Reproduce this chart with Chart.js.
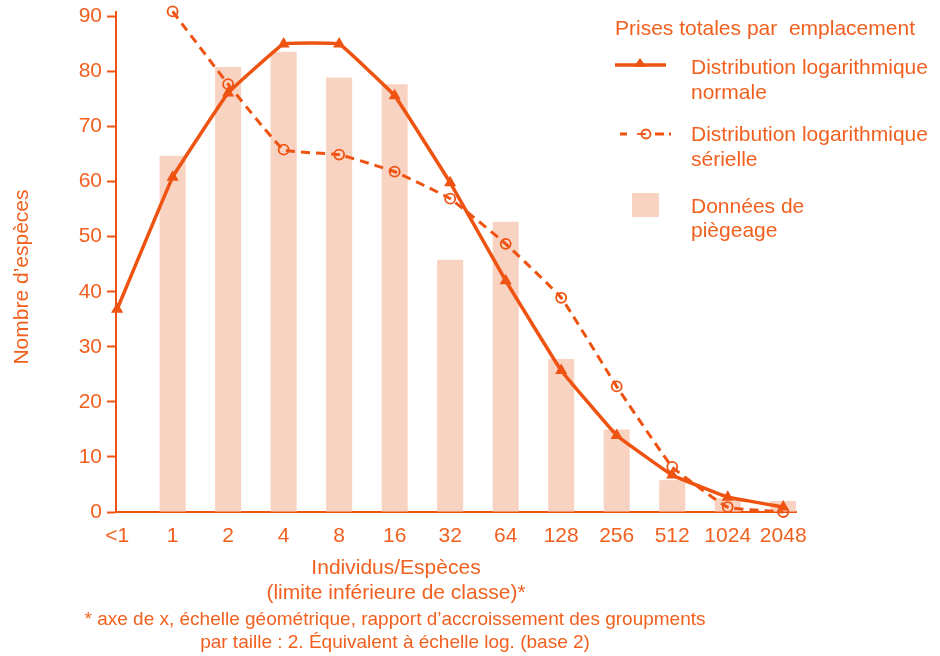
<!DOCTYPE html>
<html lang="fr">
<head>
<meta charset="utf-8">
<title>Prises totales par emplacement</title>
<script src="https://cdn.jsdelivr.net/npm/chart.js@4/dist/chart.umd.min.js"></script>
<style>
  html, body { margin: 0; padding: 0; background: #ffffff; }
  #wrap { position: relative; width: 940px; height: 656px; }
</style>
</head>
<body>
<div id="wrap"><canvas id="chart" width="940" height="656"></canvas></div>
<script>
// Classes d'abondance (limite inférieure, progression géométrique de raison 2)
const categories = ['<1', '1', '2', '4', '8', '16', '32', '64', '128', '256', '512', '1024', '2048'];

// Nombre d'espèces par classe
const trapData  = [null, 64.7, 80.8, 83.6, 78.9, 77.7, 45.8, 52.7, 27.8, 15.0, 5.8, 2.5, 2.0];
const logNormal = [36.8, 60.8, 76.1, 85.0, 85.0, 75.6, 59.8, 42.0, 25.7, 13.9, 6.7, 2.7, 0.9];
const logSeries = [null, 90.9, 77.7, 65.8, 64.9, 61.8, 56.9, 48.7, 38.9, 22.8, 8.2, 0.9, 0];

const yTicks = [0, 10, 20, 30, 40, 50, 60, 70, 80, 90];

const legendTitle = 'Prises totales par  emplacement';
const legendNormal = ['Distribution logarithmique', 'normale'];
const legendSeries = ['Distribution logarithmique', 'sérielle'];
const legendTrap = ['Données de', 'piègeage'];
const yTitle = 'Nombre d\u2019espèces';
const xTitle = ['Individus/Espèces', '(limite inférieure de classe)*'];
const footnote = [
  '* axe de x, échelle géométrique, rapport d\u2019accroissement des groupments',
  'par taille : 2. Équivalent à échelle log. (base 2)'
];

const LINE = '#EF5312';
const TEXT = '#F2601F';
const BAR = '#F9D3C2';
const FONT = '"Liberation Sans", Arial, Helvetica, sans-serif';

const toPoints = arr => arr.map((v, i) => (v === null ? null : { x: i, y: v }))
  .filter(p => p !== null);

// Légende et textes annexes dessinés sur le canevas
const annotations = {
  id: 'annotations',
  afterDraw(chart) {
    const ctx = chart.ctx;
    ctx.save();
    ctx.fillStyle = TEXT;
    ctx.textBaseline = 'middle';

    // Titre de l'axe y
    ctx.font = '21px ' + FONT;
    ctx.save();
    ctx.translate(22, 277);
    ctx.rotate(-Math.PI / 2);
    ctx.textAlign = 'center';
    ctx.fillText(yTitle, 0, 0);
    ctx.restore();

    // Titre de l'axe x
    ctx.textAlign = 'center';
    ctx.font = '21px ' + FONT;
    ctx.fillText(xTitle[0], 396, 568);
    ctx.fillText(xTitle[1], 396, 593);

    // Note de bas de page
    ctx.font = '19px ' + FONT;
    ctx.fillText(footnote[0], 395, 620);
    ctx.fillText(footnote[1], 395, 643);

    // Légende
    ctx.textAlign = 'left';
    ctx.font = '21px ' + FONT;
    ctx.fillText(legendTitle, 615, 29);
    ctx.fillText(legendNormal[0], 691, 68);
    ctx.fillText(legendNormal[1], 691, 93);
    ctx.fillText(legendSeries[0], 691, 135);
    ctx.fillText(legendSeries[1], 691, 160);
    ctx.fillText(legendTrap[0], 691, 207);
    ctx.fillText(legendTrap[1], 691, 231);

    // Symbole : distribution log-normale
    ctx.strokeStyle = LINE;
    ctx.lineWidth = 3.5;
    ctx.beginPath();
    ctx.moveTo(615, 65);
    ctx.lineTo(666, 65);
    ctx.stroke();
    ctx.fillStyle = LINE;
    ctx.beginPath();
    ctx.moveTo(640, 58);
    ctx.lineTo(646.5, 67);
    ctx.lineTo(633.5, 67);
    ctx.closePath();
    ctx.fill();

    // Symbole : série logarithmique
    ctx.lineWidth = 3;
    ctx.beginPath();
    ctx.moveTo(620, 134); ctx.lineTo(627, 134);
    ctx.moveTo(655, 134); ctx.lineTo(664, 134);
    ctx.moveTo(669, 134); ctx.lineTo(671, 134);
    ctx.stroke();
    ctx.lineWidth = 1.8;
    ctx.beginPath();
    ctx.arc(646, 134, 4.5, 0, Math.PI * 2);
    ctx.stroke();
    ctx.beginPath();
    ctx.moveTo(637, 134); ctx.lineTo(646, 134);
    ctx.stroke();

    // Symbole : données de piègeage
    ctx.fillStyle = BAR;
    ctx.fillRect(632, 193, 27, 24);

    ctx.restore();
  }
};

new Chart(document.getElementById('chart'), {
  data: {
    datasets: [
      {
        type: 'line',
        label: 'Distribution logarithmique normale',
        data: toPoints(logNormal),
        borderColor: LINE,
        backgroundColor: LINE,
        borderWidth: 3.5,
        pointStyle: 'triangle',
        pointRadius: 7,
        pointBorderWidth: 0,
        tension: 0.06,
        clip: false,
        order: 1
      },
      {
        type: 'line',
        label: 'Distribution logarithmique sérielle',
        data: toPoints(logSeries),
        borderColor: LINE,
        backgroundColor: 'rgba(255,255,255,0)',
        borderWidth: 3,
        borderDash: [9, 6],
        pointStyle: 'circle',
        pointRadius: 5,
        pointBorderWidth: 1.8,
        pointBorderColor: LINE,
        pointBackgroundColor: 'rgba(255,255,255,0)',
        tension: 0.1,
        clip: false,
        order: 2
      },
      {
        type: 'bar',
        label: 'Données de piègeage',
        data: toPoints(trapData),
        backgroundColor: BAR,
        borderWidth: 0,
        barPercentage: 1,
        categoryPercentage: 0.47,
        order: 3
      }
    ]
  },
  options: {
    responsive: false,
    animation: false,
    events: [],
    layout: { padding: { top: 12, right: 144, bottom: 0, left: 0 } },
    plugins: {
      legend: { display: false },
      tooltip: { enabled: false }
    },
    scales: {
      x: {
        type: 'linear',
        offset: false,
        min: -0.02,
        max: 12.23,
        afterFit(scale) {
          scale.height = 144;
          scale.paddingLeft = 0;
          scale.paddingRight = 0;
        },
        afterBuildTicks(scale) {
          scale.ticks = categories.map((c, i) => ({ value: i }));
        },
        ticks: {
          color: TEXT,
          font: { family: FONT, size: 21 },
          padding: 12,
          maxRotation: 0,
          autoSkip: false,
          callback: (v) => categories[Math.round(v)]
        },
        grid: { drawOnChartArea: false, drawTicks: false },
        border: { color: LINE, width: 2 }
      },
      y: {
        type: 'linear',
        min: 0,
        max: 90.8,
        afterFit(scale) {
          scale.width = 116;
          scale.paddingTop = 0;
          scale.paddingBottom = 0;
        },
        afterBuildTicks(scale) {
          scale.ticks = yTicks.map(v => ({ value: v }));
        },
        ticks: {
          color: TEXT,
          font: { family: FONT, size: 21 },
          padding: 5
        },
        grid: {
          drawOnChartArea: false,
          drawTicks: true,
          tickLength: 9,
          tickWidth: 2,
          tickColor: LINE
        },
        border: { color: LINE, width: 2 }
      }
    }
  },
  plugins: [annotations]
});
</script>
</body>
</html>
